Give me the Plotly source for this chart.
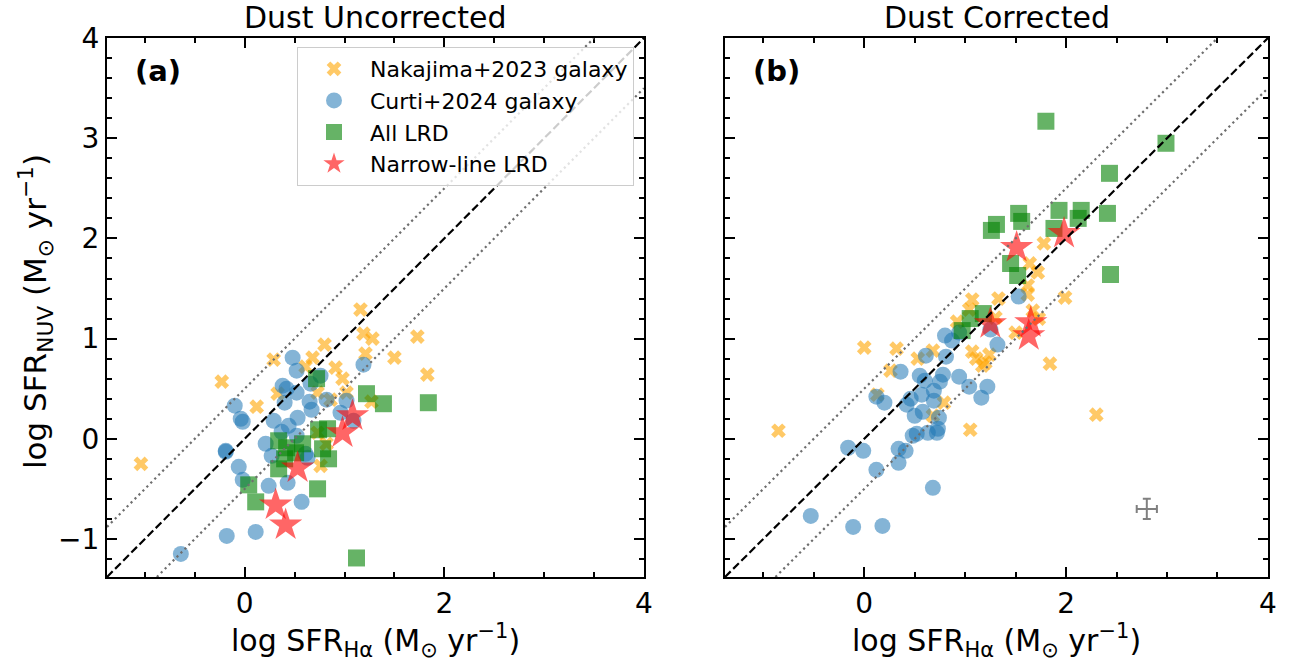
import plotly.graph_objects as go

# ---------------- data ----------------
# Panel (a): dust uncorrected   (x = log SFR_Halpha, y = log SFR_NUV)
nak_a_x = [-1.04, -0.23, 0.12, 0.29, 0.33, 0.68, 0.80, 0.91, 0.98, 0.61, 0.73, 1.02,
           0.86, 1.16, 1.19, 1.28, 1.21, 1.27, 1.50, 1.73, 1.83, 0.76, 0.82, 0.73]
nak_a_y = [-0.25, 0.57, 0.32, 0.79, 0.45, 0.81, 0.94, 0.71, 0.60, 0.72, 0.46, 0.46,
           0.39, 1.29, 1.05, 1.00, 0.85, 0.37, 0.81, 1.02, 0.64, -0.27, -0.05, 0.06]

cur_a_x = [-0.64, -0.18, 0.11, 0.57, 0.43, 0.24, -0.02, -0.06, -0.19, -0.19, -0.02, -0.10,
           0.21, 0.27, 0.29, 0.37, 0.44, 0.53, 0.52, 0.40, 0.38, 0.42, 0.52, 0.48,
           0.52, 0.65, 0.67, 0.66, 0.76, 0.82, 0.96, 1.02, 1.09, 1.19, 0.61, 0.63, -0.04]
cur_a_y = [-1.15, -0.97, -0.93, -0.63, -0.44, -0.47, -0.41, -0.28, -0.13, -0.12, 0.17, 0.33,
           -0.05, -0.17, 0.18, 0.07, 0.13, 0.21, 0.03, 0.36, 0.53, 0.50, 0.46, 0.81,
           0.68, 0.37, 0.29, 0.55, 0.63, 0.39, 0.26, 0.38, 0.18, 0.74, -0.15, -0.19, 0.20]

lrd_a_x = [0.72, 0.34, 0.42, 0.58, 0.51, 0.34, 0.04, 0.11, 0.73, 0.84, 0.78, 0.74,
           0.83, 1.22, 1.39, 1.84, 1.12, 0.40]
lrd_a_y = [0.60, -0.02, -0.09, -0.05, -0.14, -0.30, -0.46, -0.63, -0.50, -0.20, -0.10, 0.09,
           0.10, 0.45, 0.35, 0.36, -1.19, -0.20]

nl_a_x = [1.08, 0.98, 0.53, 0.31, 0.41]
nl_a_y = [0.23, 0.06, -0.29, -0.66, -0.86]

# Panel (b): dust corrected
nak_b_x = [1.78, 1.64, 1.72, 1.62, 1.62, 1.99, 1.07, 1.33, 1.67, 1.73, 0.92, 1.50,
           1.07, 1.11, 1.24, 1.17, 1.84, 2.30, 1.05, 0.00, 0.32, -0.85, 0.53, 0.68,
           0.26, 0.13, 0.79, 0.68, 1.04, 1.30, 1.20]
nak_b_y = [1.95, 1.75, 1.66, 1.53, 1.44, 1.41, 1.39, 1.40, 1.28, 1.20, 1.17, 1.06,
           0.87, 0.80, 0.84, 0.73, 0.75, 0.24, 0.09, 0.91, 0.90, 0.08, 0.80, 0.88,
           0.68, 0.44, 0.36, 0.23, 1.29, 1.21, 0.76]

cur_b_x = [-0.53, -0.11, 0.18, 0.68, -0.16, -0.01, 0.12, 0.34, 0.41, 0.34, 0.48, 0.52,
           0.63, 0.72, 0.73, 0.50, 0.58, 0.74, 0.42, 0.46, 0.57, 0.69, 0.69, 0.75,
           0.78, 0.55, 0.60, 0.20, 0.12, 0.36, 0.61, 0.81, 0.80, 0.87, 0.94, 1.04,
           1.16, 1.22, 1.32, 0.94, 1.25, 1.53]
cur_b_y = [-0.77, -0.88, -0.87, -0.49, -0.09, -0.12, -0.31, -0.10, -0.12, -0.24, 0.03, 0.05,
           0.06, 0.06, 0.10, 0.23, 0.27, 0.21, 0.34, 0.40, 0.44, 0.38, 0.48, 0.57,
           0.64, 0.63, 0.58, 0.36, 0.42, 0.67, 0.83, 0.82, 1.03, 0.98, 0.62, 0.52,
           0.41, 0.52, 0.94, 1.06, 1.09, 1.42]

lrd_b_x = [1.80, 2.99, 2.43, 1.93, 2.15, 2.12, 2.41, 1.88, 1.53, 1.56, 1.31, 1.26,
           1.45, 1.52, 2.44, 1.05, 1.18, 0.97]
lrd_b_y = [3.17, 2.95, 2.65, 2.28, 2.28, 2.20, 2.25, 2.10, 2.25, 2.17, 2.14, 2.08,
           1.75, 1.63, 1.64, 1.20, 1.25, 1.08]

nl_b_x = [1.51, 1.98, 1.25, 1.65, 1.63]
nl_b_y = [1.91, 2.05, 1.15, 1.16, 1.03]

# typical uncertainty (panel b)
err_x, err_y = [2.8], [-0.7]
err_dx, err_dy = [0.1], [0.1]

AX_MIN, AX_MAX = -1.38, 4.0
OFFSET = 0.5  # dex, dotted lines

# ---------------- figure ----------------
FONT = "DejaVu Sans"
C_NAK = "rgba(255,165,0,0.6)"
C_CUR = "rgba(31,119,180,0.55)"
C_LRD = "rgba(0,128,0,0.6)"
C_NL = "rgba(255,0,0,0.6)"

fig = go.Figure()

def add_panel(xa, ya, nx, ny, cx, cy, lx, ly, sx, sy, show):
    fig.add_trace(go.Scatter(x=nx, y=ny, mode="markers", name="Nakajima+2023 galaxy",
                             marker=dict(symbol="x", size=13, color=C_NAK, line=dict(width=0)),
                             xaxis=xa, yaxis=ya, showlegend=show))
    fig.add_trace(go.Scatter(x=cx, y=cy, mode="markers", name="Curti+2024 galaxy",
                             marker=dict(symbol="circle", size=16, color=C_CUR, line=dict(width=0)),
                             xaxis=xa, yaxis=ya, showlegend=show))
    fig.add_trace(go.Scatter(x=lx, y=ly, mode="markers", name="All LRD",
                             marker=dict(symbol="square", size=17, color=C_LRD, line=dict(width=0)),
                             xaxis=xa, yaxis=ya, showlegend=show))
    fig.add_trace(go.Scatter(x=sx, y=sy, mode="markers", name="Narrow-line LRD",
                             marker=dict(symbol="star", size=25, color=C_NL, line=dict(width=0)),
                             xaxis=xa, yaxis=ya, showlegend=show))

add_panel("x", "y", nak_a_x, nak_a_y, cur_a_x, cur_a_y, lrd_a_x, lrd_a_y, nl_a_x, nl_a_y, True)
add_panel("x2", "y2", nak_b_x, nak_b_y, cur_b_x, cur_b_y, lrd_b_x, lrd_b_y, nl_b_x, nl_b_y, False)

fig.add_trace(go.Scatter(x=err_x, y=err_y, mode="markers", xaxis="x2", yaxis="y2",
                         marker=dict(size=2, color="rgba(128,128,128,0)"), showlegend=False,
                         error_x=dict(type="data", array=err_dx, color="gray", thickness=2, width=4),
                         error_y=dict(type="data", array=err_dy, color="gray", thickness=2, width=4)))

# reference lines (1:1 and +/- offset), drawn above markers
DOT = dict(color="#6e6e6e", width=2.2, dash="2.2px,3.4px")
for xr, yr in (("x", "y"), ("x2", "y2")):
    fig.add_shape(type="line", xref=xr, yref=yr, x0=AX_MIN, y0=AX_MIN, x1=AX_MAX, y1=AX_MAX,
                  line=dict(color="black", width=2.2, dash="8px,3.5px"), layer="above")
    fig.add_shape(type="line", xref=xr, yref=yr, x0=AX_MIN, y0=AX_MIN + OFFSET,
                  x1=AX_MAX - OFFSET, y1=AX_MAX, line=DOT, layer="above")
    fig.add_shape(type="line", xref=xr, yref=yr, x0=AX_MIN + OFFSET, y0=AX_MIN,
                  x1=AX_MAX, y1=AX_MAX - OFFSET, line=DOT, layer="above")

W, H = 1293, 663
def px_x(p):
    return p / W
def px_y(p):
    return 1 - p / H

xd1 = [px_x(107), px_x(644)]
xd2 = [px_x(725), px_x(1268)]
yd = [px_y(577), px_y(38)]

common_x = dict(range=[AX_MIN, AX_MAX + 0.001], dtick=2, tick0=0, ticks="inside", ticklen=10,
                tickwidth=2, tickcolor="black", showline=True, linewidth=2, linecolor="black",
                mirror="ticks", showgrid=False, zeroline=False, automargin=False,
                tickfont=dict(family=FONT, size=28, color="black"),
                minor=dict(dtick=0.5, ticks="inside", ticklen=5, tickwidth=1.5, tickcolor="black",
                           showgrid=False))
common_y = dict(range=[AX_MIN, AX_MAX + 0.001], dtick=1, tick0=0, ticks="inside", ticklen=10,
                tickwidth=2, tickcolor="black", showline=True, linewidth=2, linecolor="black",
                mirror="ticks", showgrid=False, zeroline=False, automargin=False,
                tickfont=dict(family=FONT, size=28, color="black"),
                minor=dict(dtick=0.2, ticks="inside", ticklen=5, tickwidth=1.5, tickcolor="black",
                           showgrid=False))

fig.update_layout(
    width=W, height=H, margin=dict(l=0, r=0, t=0, b=0, pad=0, autoexpand=False),
    paper_bgcolor="white", plot_bgcolor="white",
    font=dict(family=FONT, color="black"),
    xaxis=dict(domain=xd1, anchor="y", **common_x),
    yaxis=dict(domain=yd, anchor="x", **common_y),
    xaxis2=dict(domain=xd2, anchor="y2", **common_x),
    yaxis2=dict(domain=yd, anchor="x2", showticklabels=False, **common_y),
    legend=dict(x=px_x(297), y=px_y(47), xanchor="left", yanchor="top",
                bgcolor="rgba(255,255,255,0.8)", bordercolor="#cccccc", borderwidth=1,
                font=dict(family=FONT, size=22, color="black"), itemwidth=62,
                tracegroupgap=0),
)

xlabel = "log SFR<sub>Hα</sub> (M<sub>⊙</sub> yr<sup>−1</sup>)"
ylabel = "log SFR<sub>NUV</sub> (M<sub>⊙</sub> yr<sup>−1</sup>)"
ann = [
    dict(text="Dust Uncorrected", x=(xd1[0] + xd1[1]) / 2, y=px_y(17), font=dict(size=30)),
    dict(text="Dust Corrected", x=(xd2[0] + xd2[1]) / 2, y=px_y(17), font=dict(size=30)),
    dict(text=xlabel, x=(xd1[0] + xd1[1]) / 2, y=px_y(640), font=dict(size=30)),
    dict(text=xlabel, x=(xd2[0] + xd2[1]) / 2, y=px_y(640), font=dict(size=30)),
    dict(text=ylabel, x=px_x(35), y=px_y(312), textangle=-90, font=dict(size=31)),
    dict(text="<b>(a)</b>", x=px_x(158), y=px_y(71), font=dict(size=29)),
    dict(text="<b>(b)</b>", x=px_x(776), y=px_y(71), font=dict(size=29)),
]
for a in ann:
    a.update(xref="paper", yref="paper", showarrow=False, xanchor="center", yanchor="middle")
    a["font"].update(family=FONT, color="black")
fig.update_layout(annotations=ann)

fig.write_html("out.html")
